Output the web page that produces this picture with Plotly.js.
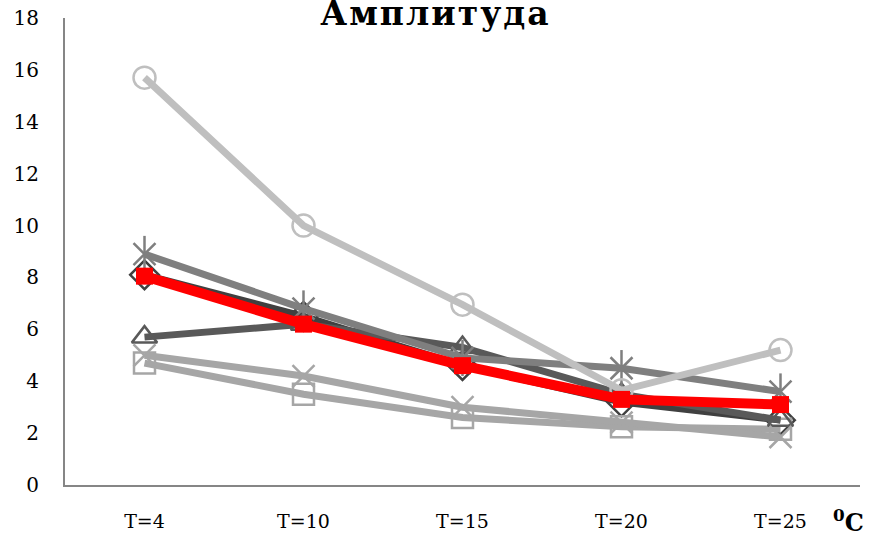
<!DOCTYPE html>
<html>
<head>
<meta charset="utf-8">
<script src="https://cdn.plot.ly/plotly-3.0.1.min.js"></script>
<style>
  html, body { margin: 0; padding: 0; background: #fff; }
  #chart { width: 871px; height: 537px; }
  #chart .gtitle { letter-spacing: 2px; }
</style>
</head>
<body>
<div id="chart"></div>
<script>
// Temperature categories
const categories = ['T=4', 'T=10', 'T=15', 'T=20', 'T=25'];

// Amplitude values for each series
const circleSeries   = [15.7, 10.0, 6.95, 3.65, 5.2];
const starSeries     = [8.9, 6.8, 4.9, 4.5, 3.6];
const diamondSeries  = [8.1, 6.5, 4.6, 3.2, 2.5];
const triangleSeries = [5.7, 6.2, 5.3, 3.5, 2.5];
const squareSeries   = [4.7, 3.5, 2.6, 2.25, 2.15];
const crossSeries    = [5.0, 4.2, 3.0, 2.4, 1.85];
const meanSeries     = [8.05, 6.2, 4.6, 3.3, 3.1];

const yTicks = [0, 2, 4, 6, 8, 10, 12, 14, 16, 18];

const serif = 'DejaVu Serif, Liberation Serif, serif';

function series(name, y, color, symbol, size, width) {
  return {
    type: 'scatter', mode: 'lines+markers', name: name,
    x: categories, y: y,
    line: { color: color, width: width },
    marker: { symbol: symbol, size: size, color: color, line: { color: color, width: 2.5 } },
    hoverinfo: 'x+y'
  };
}

const traces = [
  series('Ряд 1', diamondSeries, '#404040', 'diamond-open', 22, 7),
  series('Ряд 2', squareSeries, '#a6a6a6', 'square-open', 21, 7),
  series('Ряд 3', triangleSeries, '#595959', 'triangle-up-open', 22, 7),
  series('Ряд 4', crossSeries, '#a6a6a6', 'x-thin-open', 22, 7),
  series('Ряд 5', starSeries, '#7f7f7f', 'x-thin-open', 22, 7),
  // vertical stroke completing the star marker
  {
    type: 'scatter', mode: 'markers', name: 'Ряд 5', x: categories, y: starSeries,
    marker: { symbol: 'line-ns-open', size: 26, color: '#7f7f7f', line: { color: '#7f7f7f', width: 2.5 } },
    hoverinfo: 'skip'
  },
  series('Ряд 6', circleSeries, '#bfbfbf', 'circle-open', 22, 7),
  {
    type: 'scatter', mode: 'lines+markers', name: 'Среднее', x: categories, y: meanSeries,
    line: { color: '#ff0000', width: 10 },
    marker: { symbol: 'square', size: 17, color: '#ff0000' },
    hoverinfo: 'x+y'
  }
];

const layout = {
  width: 871, height: 537,
  margin: { l: 65, r: 11, t: 18, b: 52 },
  paper_bgcolor: '#ffffff', plot_bgcolor: '#ffffff',
  showlegend: false,
  font: { family: serif, color: '#000000', size: 19 },
  title: {
    text: '<b>Амплитуда</b>',
    font: { family: serif, size: 33, color: '#000000' },
    xref: 'container', x: 0.5, xanchor: 'center',
    yref: 'container', y: 0.975, yanchor: 'middle'
  },
  xaxis: {
    type: 'category', categoryorder: 'array', categoryarray: categories,
    range: [-0.5, 4.5],
    showline: true, linecolor: '#868686', linewidth: 2,
    showgrid: false, zeroline: false, ticks: '',
    tickfont: { family: serif, size: 19, color: '#000000' },
    ticklabelstandoff: 18
  },
  yaxis: {
    range: [0, 18], tickvals: yTicks, ticktext: yTicks.map(String),
    showline: true, linecolor: '#868686', linewidth: 2,
    showgrid: false, zeroline: false, ticks: '',
    tickfont: { family: serif, size: 20, color: '#000000' },
    ticklabelstandoff: 20
  },
  annotations: [{
    text: '<b><sup>0</sup>C</b>',
    xref: 'paper', yref: 'paper', x: 0.986, y: -0.077,
    xanchor: 'center', yanchor: 'middle', showarrow: false,
    font: { family: serif, size: 24, color: '#000000' }
  }]
};

Plotly.newPlot('chart', traces, layout, { displayModeBar: false, staticPlot: true });
</script>
</body>
</html>
